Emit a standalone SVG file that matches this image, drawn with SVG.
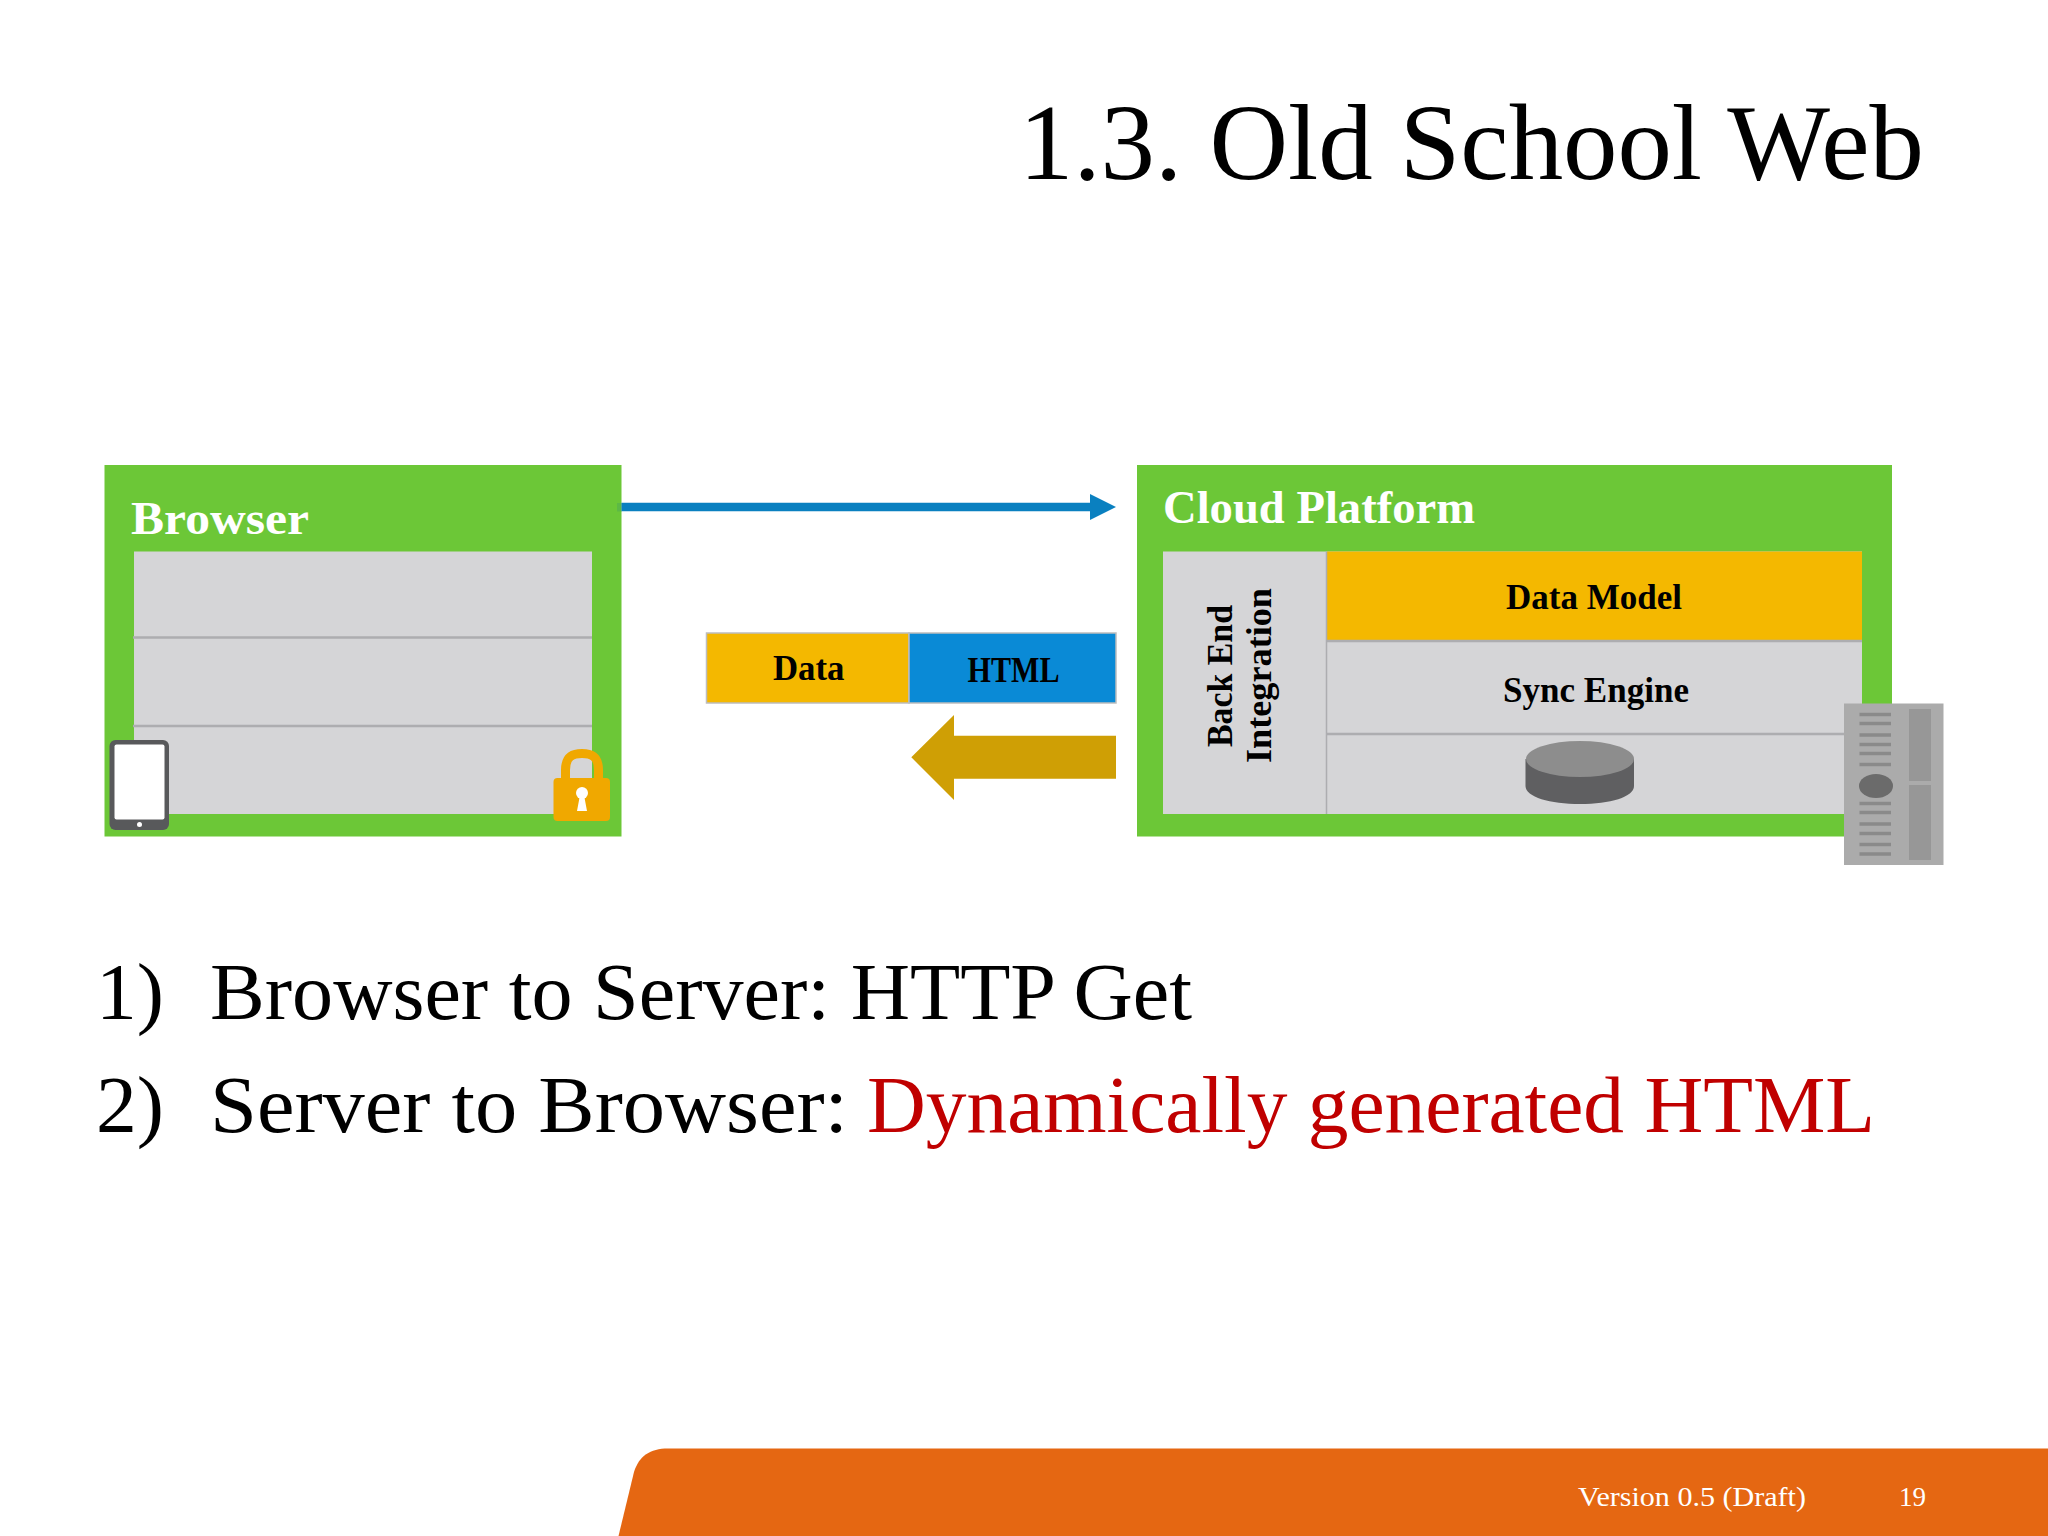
<svg xmlns="http://www.w3.org/2000/svg" width="2048" height="1536" viewBox="0 0 2048 1536">
<style>
text{font-family:"Liberation Serif","DejaVu Serif",serif}
.b{font-weight:700;fill:#000;font-size:35px}
.h{font-weight:700;fill:#fff;font-size:46px}
.body{font-size:80px;fill:#000}
.panel{fill:#d5d5d7}
.div{stroke:#adadb0;stroke-width:2.5;fill:none}
.green{fill:#6cc737}
.sl{stroke:#8a8a8a;stroke-width:3.5}
</style>
<defs>
<marker id="ah" markerUnits="userSpaceOnUse" markerWidth="26" markerHeight="26" refX="0" refY="13" orient="auto"><path d="M0 0L26 13L0 26Z" fill="#0a80c0"/></marker>
</defs>
<rect width="2048" height="1536" fill="#fff"/>
<text id="title" x="1019" y="179" font-size="108" fill="#000" textLength="905" lengthAdjust="spacingAndGlyphs">1.3. Old School Web</text>
<g id="browser">
<rect class="green" x="104.500" y="465" width="517" height="371.500"/>
<text class="h" x="131" y="534" textLength="178" lengthAdjust="spacingAndGlyphs">Browser</text>
<rect class="panel" x="134" y="551.500" width="458" height="262.500"/>
<path class="div" d="M133 637.500H592M133 726H592"/>
<g id="tablet"><rect x="109.500" y="740" width="59.500" height="90" rx="6" fill="#58595b"/><rect x="114.500" y="744.500" width="50" height="75" rx="2" fill="#fff"/><circle cx="139.500" cy="824.500" r="2.500" fill="#fff"/></g>
<g id="lock"><path d="M565.500 782V770C565.500 757 572 753.500 582 753.500C592 753.500 598.500 757 598.500 770V782" fill="none" stroke="#f0a800" stroke-width="9"/><rect x="553.500" y="778" width="56.500" height="43" rx="4" fill="#f0a800"/><circle cx="582" cy="793" r="6" fill="#fff"/><path d="M580 795H584L587 811H577Z" fill="#fff"/></g>
</g>
<g id="connectors">
<rect x="617" y="503" width="4.500" height="8.500" fill="#5cb945"/>
<line x1="621.500" y1="507" x2="1090" y2="507" stroke="#0a80c0" stroke-width="8.500" marker-end="url(#ah)"/>
<path d="M911.300 757.300L954 715V735.700H1116V778.700H954V800Z" fill="#cf9f05"/>
</g>
<g id="message">
<rect x="706.500" y="633" width="202.500" height="70" fill="#f4b800" stroke="#bdbdbd" stroke-width="1.500"/>
<rect x="909" y="633" width="207" height="70" fill="#0a8ad6" stroke="#bdbdbd" stroke-width="1.500"/>
<text class="b" x="773" y="680" textLength="71.500" lengthAdjust="spacingAndGlyphs">Data</text>
<text class="b" x="967.500" y="682" textLength="92" lengthAdjust="spacingAndGlyphs">HTML</text>
</g>
<g id="cloud">
<rect class="green" x="1137" y="465" width="755" height="371.500"/>
<text class="h" x="1163" y="523" textLength="312" lengthAdjust="spacingAndGlyphs">Cloud Platform</text>
<rect class="panel" x="1163" y="551.500" width="699" height="262.500"/>
<rect x="1327" y="551.500" width="535" height="89" fill="#f4b800"/>
<path class="div" d="M1327 641H1862M1326 734H1862"/>
<path d="M1326.500 551.500V814" stroke="#adadb0" stroke-width="1.500"/>
<text class="b" x="1506" y="609" textLength="176" lengthAdjust="spacingAndGlyphs">Data Model</text>
<text class="b" x="1503" y="702" textLength="186" lengthAdjust="spacingAndGlyphs">Sync Engine</text>
<text class="b" transform="translate(1232 747) rotate(-90)" textLength="142" lengthAdjust="spacingAndGlyphs">Back End</text>
<text class="b" transform="translate(1271 763) rotate(-90)" textLength="175" lengthAdjust="spacingAndGlyphs">Integration</text>
<g id="cylinder"><path d="M1525.500 759V786C1525.500 797 1550 804 1580 804C1610 804 1634 797 1634 786V759Z" fill="#5f5f61"/><ellipse cx="1580" cy="759" rx="54" ry="18" fill="#8d8d8d"/></g>
<g id="server"><rect x="1844" y="703.500" width="99.500" height="161.500" fill="#ababab"/>
<path class="sl" d="M1859.500 714.500H1891M1859.500 723.500H1891M1859.500 735H1891M1859.500 744.500H1891M1859.500 753.500H1891M1859.500 764.500H1891M1859.500 803.500H1891M1859.500 812.500H1891M1859.500 824H1891M1859.500 833.500H1891M1859.500 844.500H1891M1859.500 854H1891"/>
<ellipse cx="1876" cy="786" rx="17" ry="12" fill="#6b6b6b"/>
<rect x="1909" y="709" width="22" height="72" fill="#979797"/><rect x="1909" y="785" width="22" height="75" fill="#979797"/></g>
</g>
<g id="bullets">
<text class="body" x="96" y="1019" textLength="68" lengthAdjust="spacingAndGlyphs">1)</text>
<text class="body" x="210" y="1019" textLength="982" lengthAdjust="spacingAndGlyphs">Browser to Server: HTTP Get</text>
<text class="body" x="96" y="1132" textLength="68" lengthAdjust="spacingAndGlyphs">2)</text>
<text class="body" x="210" y="1132" textLength="638" lengthAdjust="spacingAndGlyphs">Server to Browser:</text>
<text class="body" x="867" y="1132" style="fill:#c00000" textLength="1008" lengthAdjust="spacingAndGlyphs">Dynamically generated HTML</text>
</g>
<g id="footer">
<path d="M618.500 1536L634 1472C639 1456 650 1448.500 668 1448.500H2048V1536Z" fill="#e56712"/>
<text x="1578" y="1506" font-size="27" fill="#fff" textLength="228" lengthAdjust="spacingAndGlyphs">Version 0.5 (Draft)</text>
<text x="1899" y="1506" font-size="27" fill="#fff" textLength="27" lengthAdjust="spacingAndGlyphs">19</text>
</g>
</svg>
